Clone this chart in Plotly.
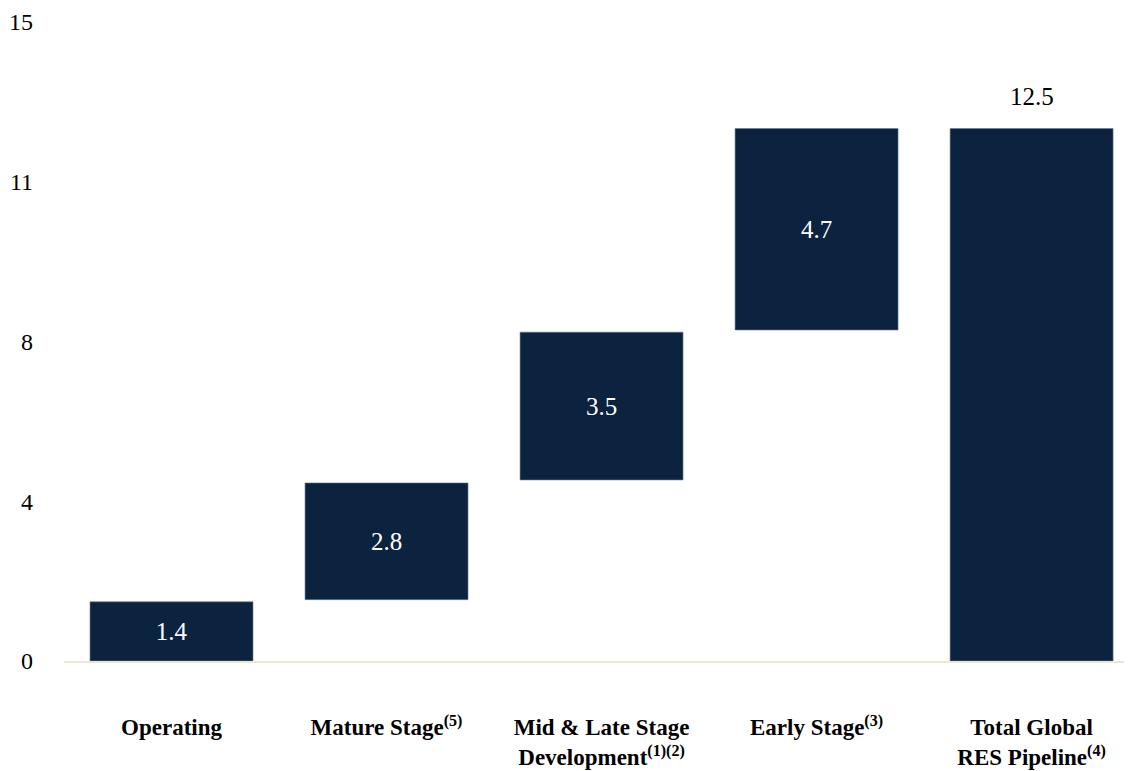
import plotly.graph_objects as go

# ---- data ----
categories = ["Operating", "Mature Stage", "Mid & Late Stage Development", "Early Stage", "Total Global RES Pipeline"]
tick_labels = [
    "<b>Operating</b>",
    "<b>Mature Stage<sup>(5)</sup></b>",
    "<b>Mid & Late Stage<br>Development<sup>(1)(2)</sup></b>",
    "<b>Early Stage<sup>(3)</sup></b>",
    "<b>Total Global<br>RES Pipeline<sup>(4)</sup></b>",
]
bar_base = [0.0, 1.44, 4.25, 7.77, 0.0]
bar_top = [1.39, 4.18, 7.72, 12.5, 12.5]
value_labels = ["1.4", "2.8", "3.5", "4.7", "12.5"]
y_tickvals = [0, 3.75, 7.5, 11.25, 15]
y_ticktext = ["0", "4", "8", "11", "15"]

NAVY = "#0c2340"
FONT = "Liberation Serif"

heights = [t - b for t, b in zip(bar_top, bar_base)]
inside_text = value_labels[:-1] + [""]

fig = go.Figure()
fig.add_trace(go.Bar(
    x=categories,
    y=heights,
    base=bar_base,
    marker=dict(color=NAVY, line=dict(color="#6b7a90", width=0.6)),
    text=inside_text,
    textposition="inside",
    insidetextanchor="middle",
    textangle=0,
    constraintext="none",
    insidetextfont=dict(family=FONT, size=25, color="white"),
    hoverinfo="skip",
))

# total label above the last bar
fig.add_annotation(
    x=categories[-1], y=bar_top[-1], text=value_labels[-1],
    showarrow=False, yanchor="bottom", yshift=17,
    font=dict(family=FONT, size=25, color="black"),
)

# page body has an 8px margin; figure is sized/offset to compensate
fig.update_layout(
    width=1124, height=763, autosize=False,
    margin=dict(l=56, r=0, t=13.5, b=109.5, autoexpand=False),
    paper_bgcolor="white", plot_bgcolor="white",
    bargap=0.242,
    showlegend=False,
    font=dict(family=FONT, color="black"),
)
fig.update_xaxes(
    type="category",
    range=[-0.5, 4.467],
    tickvals=categories, ticktext=tick_labels,
    tickfont=dict(family=FONT, size=23, color="black"),
    showline=True, linecolor="#ece6d6", linewidth=1.5,
    showgrid=False, ticks="", ticklabelstandoff=45,
    automargin=False,
)
fig.update_yaxes(
    range=[0, 15],
    tickvals=y_tickvals, ticktext=y_ticktext,
    tickfont=dict(family=FONT, size=24, color="black"),
    showgrid=False, zeroline=False, showline=False, ticks="",
    ticklabelstandoff=30, automargin=False,
)

fig.write_html("out.html")
